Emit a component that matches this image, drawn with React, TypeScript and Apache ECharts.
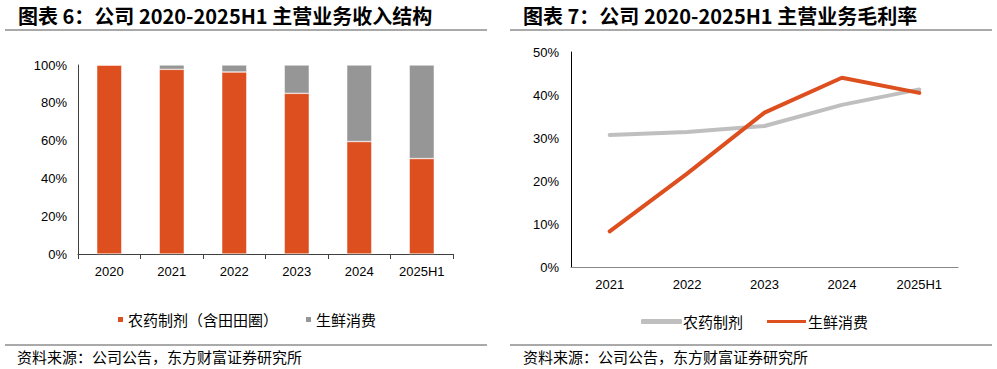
import React, { useEffect, useRef } from "react";
import * as echarts from "echarts";

const barCategories = ["2020", "2021", "2022", "2023", "2024", "2025H1"];
const pesticideShare = [100, 97.7, 96.3, 85.0, 59.5, 50.5];
const freshShare = [0, 2.3, 3.7, 15.0, 40.5, 49.5];

const lineCategories = ["2021", "2022", "2023", "2024", "2025H1"];
const pesticideMargin = [30.7, 31.4, 32.8, 37.7, 41.3];
const freshMargin = [8.3, 21.7, 35.9, 44.0, 40.5];

const yTicksLeft = [0, 20, 40, 60, 80, 100];
const yTicksRight = [0, 10, 20, 30, 40, 50];

const RED = "#DD4F1F";
const GRAY_BAR = "#969696";
const GRAY_LINE = "#BFBFBF";
const CJK = '"Noto Sans CJK SC", sans-serif';
const NUM = '"Liberation Sans", Arial, sans-serif';

export default function App() {
  const ref = useRef<HTMLDivElement>(null);
  useEffect(() => {
    if (!ref.current) return;
    const chart = echarts.init(ref.current, undefined, { renderer: "svg" });
    const axisLabel = { color: "#000", fontSize: 13, fontFamily: NUM };
    chart.setOption({
      animation: false,
      backgroundColor: "#fff",
      grid: [
        { left: 78, right: 544, top: 65, bottom: 115 },
        { left: 571, right: 39, top: 52, bottom: 102 },
      ],
      xAxis: [
        {
          gridIndex: 0,
          type: "category",
          data: barCategories,
          axisLine: { lineStyle: { color: "#404040", width: 1 } },
          axisTick: { show: true, alignWithLabel: false, length: 5, lineStyle: { color: "#404040" } },
          axisLabel: { ...axisLabel, margin: 11 },
        },
        {
          gridIndex: 1,
          type: "category",
          data: lineCategories,
          axisLine: { lineStyle: { color: "#888", width: 1 } },
          axisTick: { show: false },
          axisLabel: { ...axisLabel, margin: 11 },
        },
      ],
      yAxis: [
        {
          gridIndex: 0,
          type: "value",
          min: yTicksLeft[0],
          max: yTicksLeft[yTicksLeft.length - 1],
          interval: 20,
          axisLine: { show: true, lineStyle: { color: "#404040" } },
          axisTick: { show: false },
          splitLine: { show: false },
          axisLabel: { ...axisLabel, margin: 11, formatter: "{value}%" },
        },
        {
          gridIndex: 1,
          type: "value",
          min: yTicksRight[0],
          max: yTicksRight[yTicksRight.length - 1],
          interval: 10,
          axisLine: { show: true, lineStyle: { color: "#000" } },
          axisTick: { show: false },
          splitLine: { show: false },
          axisLabel: { ...axisLabel, margin: 12, formatter: "{value}%" },
        },
      ],
      legend: [
        {
          data: [
            { name: "农药制剂（含田田圈）", itemStyle: { color: RED } },
            { name: "生鲜消费", itemStyle: { color: GRAY_BAR } },
          ],
          left: 111,
          top: 307,
          icon: "rect",
          itemWidth: 7,
          itemHeight: 7,
          itemGap: 26,
          selectedMode: false,
          textStyle: { fontSize: 15, fontFamily: CJK, color: "#000", padding: [0, 0, 0, -1] },
        },
        {
          data: [
            { name: "农药制剂", itemStyle: { color: GRAY_LINE }, lineStyle: { color: GRAY_LINE } },
            { name: "生鲜消费", itemStyle: { color: RED }, lineStyle: { color: RED } },
          ],
          left: 636,
          top: 309,
          icon: "roundRect",
          itemWidth: 41,
          itemHeight: 5,
          itemGap: 22,
          selectedMode: false,
          textStyle: { fontSize: 15, fontFamily: CJK, color: "#000", padding: [0, 0, 0, -4] },
        },
      ],
      series: [
        {
          name: "农药制剂（含田田圈）",
          type: "bar",
          stack: "s",
          xAxisIndex: 0,
          yAxisIndex: 0,
          barWidth: 25,
          data: pesticideShare,
          itemStyle: { color: RED, borderColor: "#fff", borderWidth: 0.5 },
        },
        {
          name: "生鲜消费",
          type: "bar",
          stack: "s",
          xAxisIndex: 0,
          yAxisIndex: 0,
          barWidth: 25,
          data: freshShare,
          itemStyle: { color: GRAY_BAR, borderColor: "#fff", borderWidth: 0.5 },
        },
        {
          name: "农药制剂",
          type: "line",
          xAxisIndex: 1,
          yAxisIndex: 1,
          data: pesticideMargin,
          showSymbol: false,
          symbol: "none",
          lineStyle: { color: GRAY_LINE, width: 4, cap: "round" },
          itemStyle: { color: GRAY_LINE },
        },
        {
          name: "生鲜消费",
          type: "line",
          xAxisIndex: 1,
          yAxisIndex: 1,
          data: freshMargin,
          showSymbol: false,
          symbol: "none",
          lineStyle: { color: RED, width: 4, cap: "round" },
          itemStyle: { color: RED },
        },
      ],
      graphic: [
        {
          type: "text",
          left: 18,
          top: 5,
          style: {
            text: "图表 6：公司 2020-2025H1 主营业务收入结构",
            font: `bold 20px ${CJK}`,
            fill: "#000",
          },
        },
        {
          type: "text",
          left: 523,
          top: 5,
          style: {
            text: "图表 7：公司 2020-2025H1 主营业务毛利率",
            font: `bold 20px ${CJK}`,
            fill: "#000",
          },
        },
        { type: "line", shape: { x1: 5, y1: 30, x2: 487, y2: 30 }, style: { stroke: "#555", lineWidth: 1 } },
        { type: "line", shape: { x1: 510, y1: 30, x2: 992, y2: 30 }, style: { stroke: "#555", lineWidth: 1 } },
        { type: "line", shape: { x1: 5, y1: 345, x2: 487, y2: 345 }, style: { stroke: "#555", lineWidth: 1 } },
        { type: "line", shape: { x1: 510, y1: 345, x2: 992, y2: 345 }, style: { stroke: "#555", lineWidth: 1 } },
        {
          type: "text",
          left: 17,
          top: 349,
          style: { text: "资料来源：公司公告，东方财富证券研究所", font: `15px ${CJK}`, fill: "#000" },
        },
        {
          type: "text",
          left: 523,
          top: 349,
          style: { text: "资料来源：公司公告，东方财富证券研究所", font: `15px ${CJK}`, fill: "#000" },
        },
      ],
    });
    return () => chart.dispose();
  }, []);
  return (
    <div
      ref={ref}
      style={{ position: "fixed", left: 0, top: 0, width: 997, height: 369, background: "#fff" }}
    />
  );
}
